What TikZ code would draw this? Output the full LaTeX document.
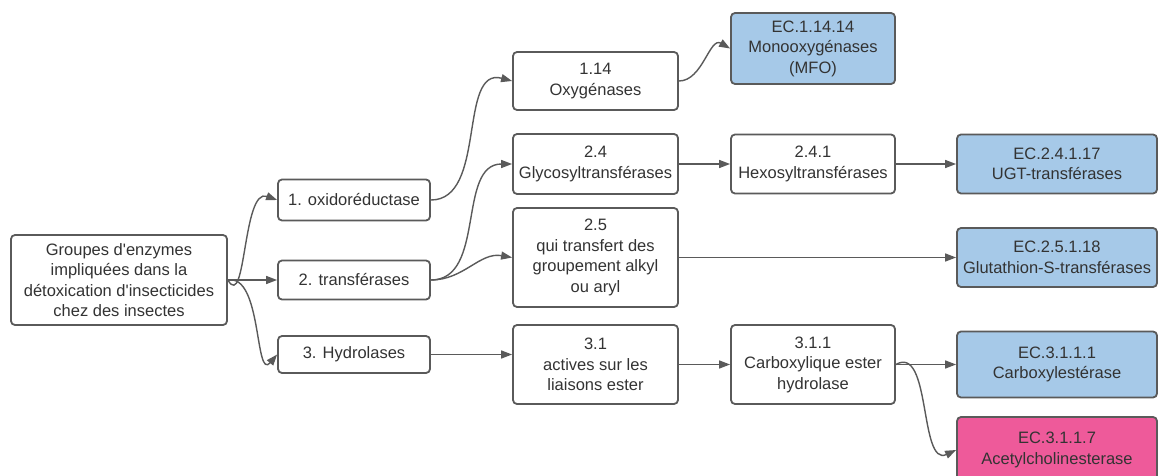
\documentclass[tikz,border=0pt]{standalone}
\usepackage{fontspec}
\setmainfont{Liberation Sans}[Ligatures=TeXOff]
\usetikzlibrary{arrows.meta}
\definecolor{linegray}{HTML}{5A5A5A}
\definecolor{textgray}{HTML}{333333}
\definecolor{ecblue}{HTML}{A6C9E8}
\definecolor{ecpink}{HTML}{EE5A9A}
\tikzset{
  box/.style={draw=linegray, line width=1.8pt, rounded corners=4pt, fill=white,
    text=textgray, align=center, inner sep=0pt,
    font=\fontsize{16.5}{20.5}\selectfont},
  bluebox/.style={box, fill=ecblue},
  pinkbox/.style={box, fill=ecpink},
  conn/.style={draw=linegray, line width=1.4pt,
    -{Triangle[length=11pt,width=8pt]}}
}
\begin{document}
\begin{tikzpicture}[x=1pt,y=-1pt]
\fill[white] (0,0) rectangle (1158,476);
\useasboundingbox (0,0) rectangle (1158,476);
% column 0
\node[box, minimum width=216pt, minimum height=90pt] (root) at (119,280)
  {Groupes d'enzymes\\impliquées dans la\\détoxication d'insecticides\\chez des insectes};
% column 1
\node[box, minimum width=152pt, minimum height=41pt] (oxid) at (354,200) {1. oxidoréductase};
\node[box, minimum width=152pt, minimum height=39pt] (transf) at (354,280) {2. transférases};
\node[box, minimum width=152pt, minimum height=37pt] (hydro) at (354,354.5) {3. Hydrolases};
% column 2
\node[box, minimum width=165pt, minimum height=58pt] (o114) at (595.5,81) {1.14\\Oxygénases};
\node[box, minimum width=165pt, minimum height=60pt] (g24) at (595.5,164) {2.4\\Glycosyltransférases};
\node[box, minimum width=165pt, minimum height=99pt] (t25) at (595.5,257.5) {2.5\\qui transfert des\\groupement alkyl\\ou aryl};
\node[box, minimum width=165pt, minimum height=79pt] (e31) at (595.5,364.5) {3.1\\actives sur les\\liaisons ester};
% column 3
\node[bluebox, minimum width=164pt, minimum height=71pt] (mfo) at (813,48.5) {EC.1.14.14\\Monooxygénases\\(MFO)};
\node[box, minimum width=164pt, minimum height=59pt] (h241) at (813,164) {2.4.1\\Hexosyltransférases};
\node[box, minimum width=164pt, minimum height=79pt] (e311) at (813,364.5) {3.1.1\\Carboxylique ester\\hydrolase};
% column 4
\node[bluebox, minimum width=200pt, minimum height=59pt] (ugt) at (1057,164) {EC.2.4.1.17\\UGT-transférases};
\node[bluebox, minimum width=200pt, minimum height=59pt] (gst) at (1057,257.5) {EC.2.5.1.18\\Glutathion-S-transférases};
\node[bluebox, minimum width=200pt, minimum height=66pt] (carb) at (1057,364.5) {EC.3.1.1.1\\Carboxylestérase};
\node[pinkbox, minimum width=200pt, minimum height=66pt] (ache) at (1057,450) {EC.3.1.1.7\\Acetylcholinesterase};
% connectors
\draw[conn] (root.east) to[out=-60,in=160] (oxid.west);
\draw[conn] (root.east) -- (transf.west);
\draw[conn] (root.east) to[out=10,in=-130] (hydro.west);
\draw[conn] (oxid.east) to[out=0,in=165] (o114.west);
\draw[conn] (transf.east) to[out=0,in=180] (g24.west);
\draw[conn] (transf.east) to[out=0,in=170] (t25.west);
\draw[conn] (hydro.east) -- (hydro.east -| e31.west);
\draw[conn] (o114.east) to[out=0,in=150] (mfo.west);
\draw[conn] (g24.east) -- (h241.west);
\draw[conn] (h241.east) -- (ugt.west);
\draw[conn] (t25.east) -- (gst.west);
\draw[conn] (e31.east) -- (e311.west);
\draw[conn] (e311.east) -- (carb.west);
\draw[conn] (e311.east) to[out=30,in=-155] (ache.west);
\end{tikzpicture}
\end{document}
